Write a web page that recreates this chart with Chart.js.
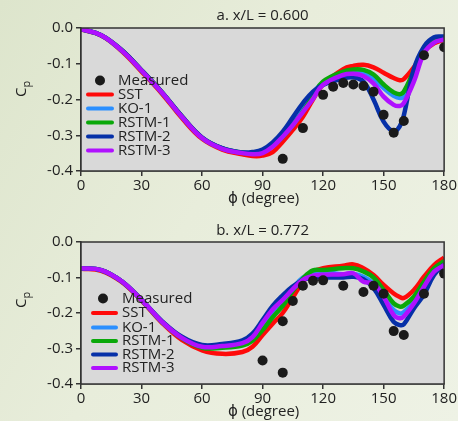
<!DOCTYPE html>
<html>
<head>
<meta charset="utf-8">
<script src="https://cdn.jsdelivr.net/npm/chart.js@4.4.1/dist/chart.umd.min.js"></script>
<style>
  html, body { margin: 0; padding: 0; }
  body {
    width: 458px; height: 421px; overflow: hidden;
    background: linear-gradient(120deg, #dde5cc 0%, #e8eddb 45%, #eef2e5 100%);
  }
  canvas { display: block; }
</style>
</head>
<body>
<canvas id="chartA" width="458" height="210"></canvas>
<canvas id="chartB" width="458" height="211"></canvas>
<script>
// ---- data: a. x/L = 0.600 ----
const phiA = [0, 10, 20, 30, 40, 50, 60, 70, 80, 85, 90, 95, 100, 105, 110, 115, 120, 130, 135, 140, 145, 150, 155, 158, 160, 165, 170, 175, 180];
const sstA   = [-0.004, -0.021, -0.064, -0.122, -0.183, -0.252, -0.31, -0.34, -0.353, -0.358, -0.357, -0.347, -0.318, -0.285, -0.248, -0.2, -0.158, -0.115, -0.106, -0.103, -0.11, -0.125, -0.14, -0.146, -0.143, -0.11, -0.066, -0.043, -0.032];
const ko1A   = [-0.003, -0.02, -0.062, -0.119, -0.18, -0.248, -0.307, -0.337, -0.349, -0.35, -0.346, -0.327, -0.298, -0.262, -0.225, -0.185, -0.152, -0.125, -0.122, -0.125, -0.14, -0.168, -0.19, -0.196, -0.19, -0.135, -0.065, -0.038, -0.03];
const rstm1A = [-0.003, -0.02, -0.061, -0.118, -0.179, -0.247, -0.307, -0.337, -0.349, -0.351, -0.348, -0.33, -0.305, -0.272, -0.234, -0.19, -0.15, -0.122, -0.116, -0.117, -0.13, -0.158, -0.18, -0.185, -0.178, -0.12, -0.062, -0.038, -0.03];
const rstm2A = [-0.003, -0.02, -0.061, -0.118, -0.179, -0.247, -0.306, -0.336, -0.348, -0.347, -0.34, -0.32, -0.29, -0.25, -0.21, -0.178, -0.159, -0.141, -0.138, -0.15, -0.2, -0.262, -0.29, -0.275, -0.245, -0.115, -0.052, -0.026, -0.024];
const rstm3A = [-0.003, -0.02, -0.062, -0.119, -0.18, -0.248, -0.308, -0.338, -0.35, -0.353, -0.35, -0.332, -0.304, -0.272, -0.235, -0.198, -0.159, -0.131, -0.128, -0.134, -0.155, -0.192, -0.215, -0.218, -0.21, -0.15, -0.071, -0.041, -0.032];
const measPhiA = [100, 110, 120, 125, 130, 135, 140, 145, 150, 155, 160, 170, 180];
const measCpA  = [-0.366, -0.28, -0.187, -0.164, -0.154, -0.158, -0.162, -0.178, -0.243, -0.293, -0.26, -0.076, -0.054];

// ---- data: b. x/L = 0.772 ----
const phiB = [0, 10, 20, 30, 40, 50, 60, 70, 80, 85, 90, 95, 100, 105, 110, 115, 120, 130, 135, 140, 145, 150, 155, 158, 160, 165, 170, 175, 180];
const sstB   = [-0.075, -0.081, -0.112, -0.165, -0.227, -0.276, -0.305, -0.315, -0.31, -0.295, -0.262, -0.23, -0.2, -0.156, -0.112, -0.085, -0.074, -0.067, -0.063, -0.074, -0.093, -0.121, -0.145, -0.155, -0.158, -0.135, -0.098, -0.065, -0.044];
const ko1B   = [-0.074, -0.079, -0.11, -0.163, -0.224, -0.27, -0.295, -0.292, -0.283, -0.265, -0.232, -0.195, -0.165, -0.13, -0.1, -0.088, -0.085, -0.091, -0.09, -0.098, -0.117, -0.154, -0.192, -0.201, -0.198, -0.168, -0.121, -0.079, -0.057];
const rstm1B = [-0.074, -0.079, -0.11, -0.163, -0.224, -0.271, -0.298, -0.298, -0.292, -0.278, -0.248, -0.212, -0.18, -0.138, -0.103, -0.08, -0.079, -0.074, -0.074, -0.083, -0.1, -0.135, -0.173, -0.182, -0.179, -0.154, -0.112, -0.074, -0.054];
const rstm2B = [-0.074, -0.079, -0.11, -0.163, -0.222, -0.267, -0.29, -0.287, -0.277, -0.258, -0.22, -0.18, -0.15, -0.125, -0.107, -0.1, -0.1, -0.1, -0.098, -0.105, -0.13, -0.177, -0.225, -0.234, -0.232, -0.187, -0.148, -0.093, -0.063];
const rstm3B = [-0.074, -0.079, -0.11, -0.163, -0.224, -0.27, -0.295, -0.293, -0.285, -0.268, -0.228, -0.19, -0.163, -0.133, -0.107, -0.095, -0.092, -0.091, -0.088, -0.112, -0.117, -0.154, -0.206, -0.215, -0.21, -0.173, -0.126, -0.084, -0.065];
const measPhiB = [90, 100, 100, 105, 110, 115, 120, 130, 140, 145, 150, 155, 160, 170, 180];
const measCpB  = [-0.334, -0.368, -0.223, -0.166, -0.123, -0.109, -0.108, -0.123, -0.141, -0.123, -0.146, -0.251, -0.262, -0.146, -0.089];

const seriesNames = ['SST', 'KO-1', 'RSTM-1', 'RSTM-2', 'RSTM-3'];
const seriesColors = ['#ff0a0a', '#2b8fff', '#0aa80a', '#0630a8', '#b010ff'];
const xTickStep = 30;
const yTickStep = 0.1;

const FONT = '"Open Sans", "DejaVu Sans", sans-serif';
const TXT = '#222';

function pts(xs, ys) {
  return xs.map((x, i) => ({ x: x, y: ys[i] }));
}

// background, frame, titles and legend
const decor = {
  id: 'decor',
  beforeDatasetsDraw(chart) {
    const a = chart.chartArea, ctx = chart.ctx;
    ctx.save();
    ctx.fillStyle = '#d9d9d9';
    ctx.fillRect(a.left, a.top, a.right - a.left, a.bottom - a.top);
    ctx.restore();
  },
  afterDatasetsDraw(chart) {
    const a = chart.chartArea, ctx = chart.ctx;
    const o = chart.options.plugins.decor;
    ctx.save();
    // frame
    ctx.strokeStyle = '#333';
    ctx.lineWidth = 1.5;
    ctx.strokeRect(a.left, a.top, a.right - a.left, a.bottom - a.top);

    ctx.fillStyle = TXT;
    ctx.font = '15px ' + FONT;
    ctx.textAlign = 'center';
    ctx.textBaseline = 'middle';
    ctx.fillText(o.title, (a.left + a.right) / 2, o.titleY);
    ctx.fillText('\u03D5 (degree)', (a.left + a.right) / 2 + 1, o.xTitleY);

    // C_p rotated
    ctx.save();
    ctx.translate(26, o.cpY);
    ctx.rotate(-Math.PI / 2);
    ctx.textAlign = 'left';
    ctx.textBaseline = 'alphabetic';
    ctx.font = '15px ' + FONT;
    ctx.fillText('C', 0, 0);
    const w = ctx.measureText('C').width;
    ctx.font = '11px ' + FONT;
    ctx.fillText('p', w, 4);
    ctx.restore();

    // legend
    const lg = o.legend;
    ctx.font = '15px ' + FONT;
    ctx.textAlign = 'left';
    ctx.textBaseline = 'middle';
    ctx.beginPath();
    ctx.arc(lg.dotX, lg.rows[0], 5, 0, Math.PI * 2);
    ctx.fillStyle = '#1a1a1a';
    ctx.fill();
    ctx.fillStyle = TXT;
    ctx.fillText('Measured', lg.textX, lg.rows[0]);
    seriesNames.forEach((n, i) => {
      const y = lg.rows[i + 1];
      ctx.strokeStyle = seriesColors[i];
      ctx.lineWidth = 4;
      ctx.lineCap = 'round';
      ctx.beginPath();
      ctx.moveTo(lg.lineX0, y);
      ctx.lineTo(lg.lineX1, y);
      ctx.stroke();
      ctx.fillStyle = TXT;
      ctx.fillText(n, lg.textX, y);
    });
    ctx.restore();
  }
};

function makeChart(id, phi, lines, mPhi, mCp, cfg) {
  const datasets = lines.map((ys, i) => ({
    label: seriesNames[i],
    data: pts(phi, ys),
    showLine: true,
    borderColor: seriesColors[i],
    borderWidth: 4.5,
    pointRadius: 0,
    tension: 0.4,
    order: 5 - i
  }));
  datasets.push({
    label: 'Measured',
    data: pts(mPhi, mCp),
    showLine: false,
    pointRadius: 5,
    pointBackgroundColor: '#1a1a1a',
    pointBorderWidth: 0,
    order: 0
  });

  return new Chart(document.getElementById(id), {
    type: 'scatter',
    data: { datasets: datasets },
    options: {
      responsive: false,
      animation: false,
      devicePixelRatio: 1,
      layout: { padding: { top: cfg.top, right: 12, left: 0, bottom: 0 } },
      plugins: {
        legend: { display: false },
        tooltip: { enabled: false },
        decor: cfg
      },
      scales: {
        x: {
          type: 'linear', min: 0, max: 180,
          ticks: { stepSize: xTickStep, color: TXT, font: { size: 15, family: FONT }, padding: 1, maxRotation: 0 },
          grid: { drawOnChartArea: false, tickLength: 5, color: '#333', lineWidth: 1.5 },
          border: { color: '#333', width: 1.5 },
          afterFit(s) { s.height = cfg.xh; }
        },
        y: {
          min: -0.4, max: 0,
          ticks: {
            stepSize: yTickStep, color: TXT, font: { size: 15, family: FONT }, padding: 3,
            callback: v => v.toFixed(1)
          },
          grid: { drawOnChartArea: false, tickLength: 5, color: '#333', lineWidth: 1.5 },
          border: { color: '#333', width: 1.5 },
          afterFit(s) { s.width = 81; }
        }
      }
    },
    plugins: [decor]
  });
}

makeChart('chartA', phiA, [sstA, ko1A, rstm1A, rstm2A, rstm3A], measPhiA, measCpA, {
  top: 28, xh: 39, title: 'a. x/L = 0.600', titleY: 16, xTitleY: 199, cpY: 97,
  legend: { dotX: 100, lineX0: 88, lineX1: 112, textX: 118, rows: [80.5, 94.5, 108.5, 122.5, 136.5, 150.5] }
});
makeChart('chartB', phiB, [sstB, ko1B, rstm1B, rstm2B, rstm3B], measPhiB, measCpB, {
  top: 32, xh: 37, title: 'b. x/L = 0.772', titleY: 21, xTitleY: 202, cpY: 98,
  legend: { dotX: 103, lineX0: 93, lineX1: 116, textX: 122, rows: [88.5, 103, 117.5, 131, 144.5, 158] }
});
</script>
</body>
</html>
